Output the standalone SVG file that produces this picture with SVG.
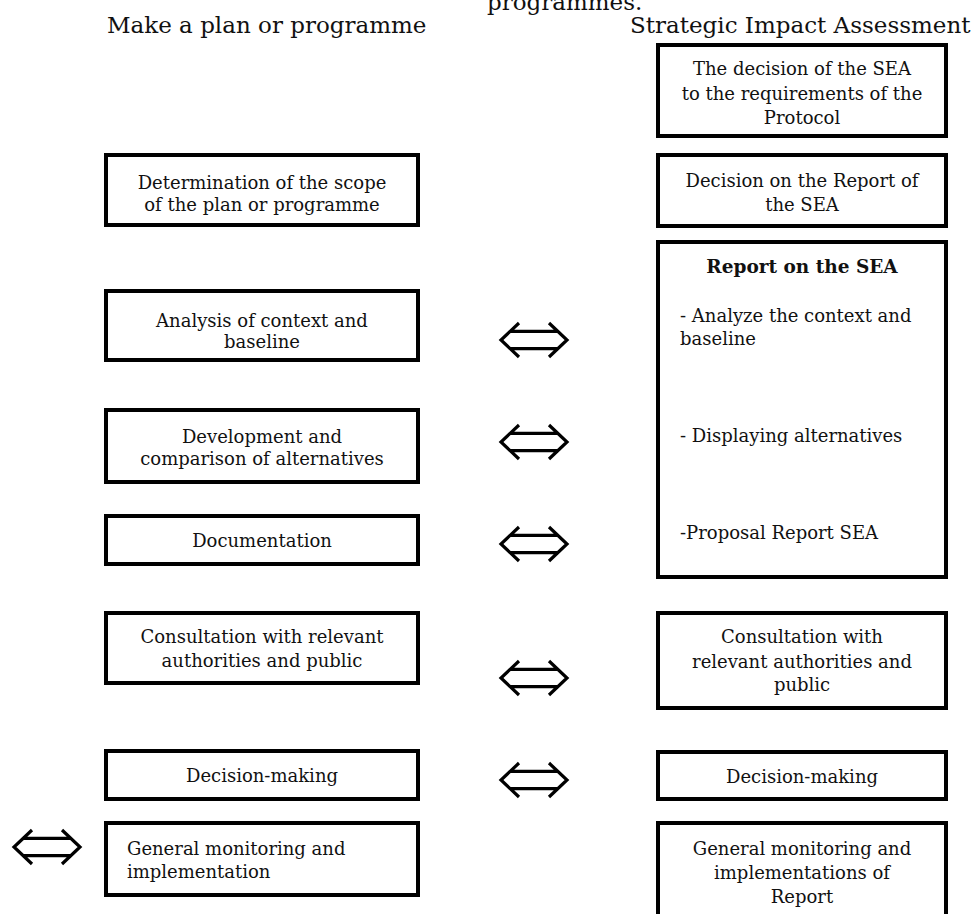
<svg xmlns="http://www.w3.org/2000/svg" xmlns:xlink="http://www.w3.org/1999/xlink" width="973" height="914" viewBox="0 0 973 914">
<style>
  .bg{fill:#fff}
  .box{fill:#fff;stroke:#000;stroke-width:4}
  .t{font-family:"DejaVu Serif","Liberation Serif",serif;font-size:18px;fill:#111}
  .c{text-anchor:middle}
  .h{font-family:"DejaVu Serif","Liberation Serif",serif;font-size:23px;fill:#111}
  .b{font-weight:bold;font-size:18.5px}
  .arr{fill:none;stroke:#000;stroke-width:3.2;stroke-linejoin:miter}
</style>
<defs>
  <g id="dbl">
    <path class="arr" d="M-15,-17 L-33,0 L-15,17 M15,-17 L33,0 L15,17 M-24,-8.7 H24 M-24,8.7 H24"/>
  </g>
</defs>
<rect class="bg" x="0" y="0" width="973" height="914"/>

<g id="headers">
  <text class="h" x="487" y="10">programmes.</text>
  <text class="h" x="107" y="33">Make a plan or programme</text>
  <text class="h" x="630" y="33">Strategic Impact Assessment</text>
</g>

<g id="left-scope">
  <rect class="box" x="106" y="155" width="312" height="70"/>
  <text class="t c" x="262" y="189">Determination of the scope</text>
  <text class="t c" x="262" y="211">of the plan or programme</text>
</g>
<g id="left-analysis">
  <rect class="box" x="106" y="291" width="312" height="69"/>
  <text class="t c" x="262" y="327">Analysis of context and</text>
  <text class="t c" x="262" y="348">baseline</text>
</g>
<g id="left-development">
  <rect class="box" x="106" y="410" width="312" height="72"/>
  <text class="t c" x="262" y="443">Development and</text>
  <text class="t c" x="262" y="465">comparison of alternatives</text>
</g>
<g id="left-documentation">
  <rect class="box" x="106" y="516" width="312" height="48"/>
  <text class="t c" x="262" y="547">Documentation</text>
</g>
<g id="left-consultation">
  <rect class="box" x="106" y="613" width="312" height="70"/>
  <text class="t c" x="262" y="643">Consultation with relevant</text>
  <text class="t c" x="262" y="667">authorities and public</text>
</g>
<g id="left-decision">
  <rect class="box" x="106" y="751" width="312" height="48"/>
  <text class="t c" x="262" y="782">Decision-making</text>
</g>
<g id="left-monitoring">
  <rect class="box" x="106" y="823" width="312" height="72"/>
  <text class="t" x="127" y="855">General monitoring and</text>
  <text class="t" x="127" y="878">implementation</text>
</g>

<g id="right-protocol">
  <rect class="box" x="658" y="45" width="288" height="91"/>
  <text class="t c" x="802" y="75">The decision of the SEA</text>
  <text class="t c" x="802" y="100">to the requirements of the</text>
  <text class="t c" x="802" y="124">Protocol</text>
</g>
<g id="right-decision-report">
  <rect class="box" x="658" y="155" width="288" height="71"/>
  <text class="t c" x="802" y="187">Decision on the Report of</text>
  <text class="t c" x="802" y="211">the SEA</text>
</g>
<g id="right-report">
  <rect class="box" x="658" y="242" width="288" height="335"/>
  <text class="t c b" x="802" y="273">Report on the SEA</text>
  <text class="t" x="680" y="322">- Analyze the context and</text>
  <text class="t" x="680" y="345">baseline</text>
  <text class="t" x="680" y="442">- Displaying alternatives</text>
  <text class="t" x="680" y="539">-Proposal Report SEA</text>
</g>
<g id="right-consultation">
  <rect class="box" x="658" y="613" width="288" height="95"/>
  <text class="t c" x="802" y="643">Consultation with</text>
  <text class="t c" x="802" y="668">relevant authorities and</text>
  <text class="t c" x="802" y="691">public</text>
</g>
<g id="right-decision">
  <rect class="box" x="658" y="752" width="288" height="47"/>
  <text class="t c" x="802" y="783">Decision-making</text>
</g>
<g id="right-monitoring">
  <rect class="box" x="658" y="823" width="288" height="110"/>
  <text class="t c" x="802" y="855">General monitoring and</text>
  <text class="t c" x="802" y="879">implementations of</text>
  <text class="t c" x="802" y="903">Report</text>
</g>

<g id="connectors">
  <use xlink:href="#dbl" href="#dbl" x="534" y="340"/>
  <use xlink:href="#dbl" href="#dbl" x="534" y="442"/>
  <use xlink:href="#dbl" href="#dbl" x="534" y="544"/>
  <use xlink:href="#dbl" href="#dbl" x="534" y="678"/>
  <use xlink:href="#dbl" href="#dbl" x="534" y="780"/>
  <use xlink:href="#dbl" href="#dbl" x="47" y="847"/>
</g>
</svg>
